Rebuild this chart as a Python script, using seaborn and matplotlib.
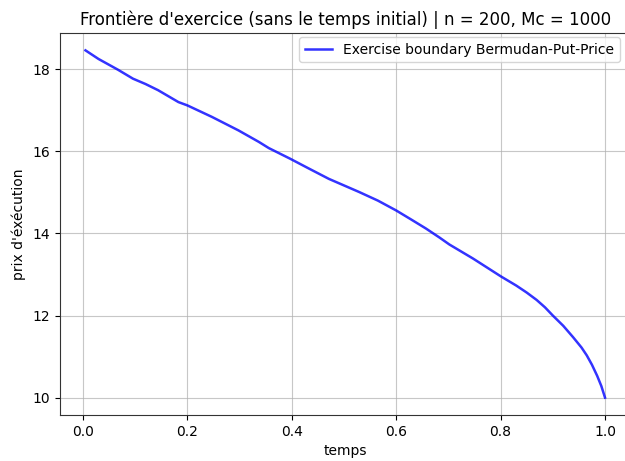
import numpy as np
import pandas as pd
import matplotlib
matplotlib.use("Agg")
import matplotlib.pyplot as plt
import seaborn as sns

# Exercise boundary of the Bermudan put (n = 200 dates, Mc = 1000 paths)
temps = [0.005, 0.030, 0.067, 0.096, 0.120, 0.144, 0.183, 0.200, 0.247, 0.298,
         0.337, 0.356, 0.397, 0.430, 0.471, 0.529, 0.565, 0.600, 0.630, 0.657,
         0.683, 0.702, 0.747, 0.801, 0.830, 0.850, 0.869, 0.885, 0.900, 0.920,
         0.939, 0.955, 0.965, 0.975, 0.985, 0.993, 1.000]
frontiere = [18.46, 18.25, 17.99, 17.77, 17.64, 17.49, 17.20, 17.12, 16.84, 16.51,
             16.23, 16.08, 15.82, 15.60, 15.33, 15.01, 14.80, 14.56, 14.33, 14.12,
             13.90, 13.73, 13.39, 12.95, 12.73, 12.56, 12.38, 12.20, 12.00, 11.75,
             11.47, 11.22, 11.03, 10.80, 10.53, 10.28, 10.00]

titre = "Frontière d'exercice (sans le temps initial) | n = 200, Mc = 1000"
legende = "Exercise boundary Bermudan-Put-Price"

df = pd.DataFrame({"temps": temps, "prix": frontiere})

plt.rcParams["font.family"] = ["DejaVu Sans"]
fig = plt.figure(figsize=(6.25, 4.61), dpi=100)
W, H = 625, 461
left, right, top, bottom = 59.5, 631, 33, 415
ax = fig.add_axes([left / W, 1 - bottom / H, (right - left) / W, (bottom - top) / H])

sns.lineplot(data=df, x="temps", y="prix", ax=ax, color="blue", alpha=0.8,
             linewidth=1.8, label=legende)

ax.grid(True, color="#b0b0b0", linewidth=0.8, alpha=0.7)
ax.set_axisbelow(True)
ax.set_xticks([0.0, 0.2, 0.4, 0.6, 0.8, 1.0])
ax.set_yticks([10, 12, 14, 16, 18])
ax.set_xlabel("temps")
ax.set_ylabel("prix d'éxécution")
ax.set_title(titre, fontsize=12)
for s in ax.spines.values():
    s.set_color("#333333")

ax.legend(loc="upper right", bbox_to_anchor=(620 / W, 1 - 37 / H),
          bbox_transform=fig.transFigure, borderaxespad=0)

fig.savefig("out.png", dpi=100)
